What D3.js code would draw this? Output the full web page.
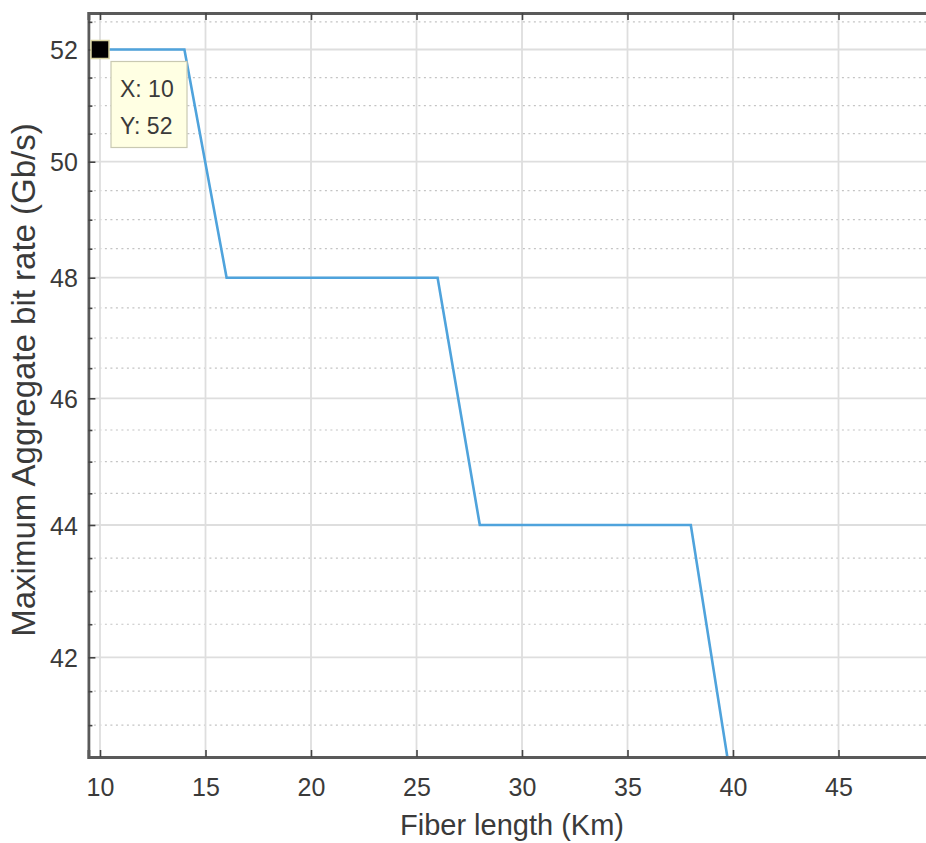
<!DOCTYPE html>
<html>
<head>
<meta charset="utf-8">
<script src="https://cdn.jsdelivr.net/npm/d3@7"></script>
<style>
  html, body { margin: 0; padding: 0; background: #fff; overflow: hidden; }
  svg { display: block; font-family: "Liberation Sans", Arial, Helvetica, sans-serif; }
</style>
</head>
<body>
<svg id="chart" width="926" height="843"></svg>
<script>
// ---- data ----
const fiberLength = [10, 14, 16, 26, 28, 38, 40];      // Km
const bitRate     = [52, 52, 48, 48, 44, 44, 40];      // Gb/s
const xTicks      = [10, 15, 20, 25, 30, 35, 40, 45, 50];
const yTicks      = [42, 44, 46, 48, 50, 52];
const yMinorTicks = [41, 41.5, 42.5, 43, 43.5, 44.5, 45, 45.5, 46.5, 47, 47.5, 48.5, 49, 49.5, 50.5, 51, 51.5, 52.5];
const tipPoint    = { x: 10, y: 52 };
const xLabel = "Fiber length (Km)";
const yLabel = "Maximum Aggregate bit rate (Gb/s)";

(function () {
// ---- layout ----
const svg = d3.select("#chart");
const pLeft = 88.4, pTop = 13, pBottom = 757, pRight = 944;

const x = d3.scaleLinear().domain([9.45, 50]).range([pLeft, pRight]);
// the photographed axis is slightly non-uniform vertically; piecewise linear scale
const y = d3.scaleLinear()
  .domain([40.53, 42, 44, 46, 48, 50, 52, 52.66])
  .range([pBottom, 657.3, 525, 398.3, 277.7, 161.7, 49.5, pTop]);

svg.append("defs").append("clipPath").attr("id", "plotclip")
  .append("rect").attr("x", pLeft).attr("y", pTop)
  .attr("width", pRight - pLeft).attr("height", pBottom - pTop);

// ---- grid ----
const grid = svg.append("g");
grid.selectAll(".ymin").data(yMinorTicks).join("line")
  .attr("x1", pLeft).attr("x2", pRight)
  .attr("y1", d => y(d)).attr("y2", d => y(d))
  .attr("stroke", "#c4c4c4").attr("stroke-width", 1.2)
  .attr("stroke-dasharray", "2,3.5");
grid.selectAll(".xmaj").data(xTicks).join("line")
  .attr("x1", d => x(d)).attr("x2", d => x(d))
  .attr("y1", pTop).attr("y2", pBottom)
  .attr("stroke", "#dedede").attr("stroke-width", 1.8);
grid.selectAll(".ymaj").data(yTicks).join("line")
  .attr("x1", pLeft).attr("x2", pRight)
  .attr("y1", d => y(d)).attr("y2", d => y(d))
  .attr("stroke", "#dedede").attr("stroke-width", 1.8);

// ---- data line ----
const line = d3.line().x(d => x(d[0])).y(d => y(d[1]));
svg.append("path")
  .datum(fiberLength.map((v, i) => [v, bitRate[i]]))
  .attr("clip-path", "url(#plotclip)")
  .attr("d", line)
  .attr("fill", "none")
  .attr("stroke", "#4fa3dc")
  .attr("stroke-width", 2.6)
  .attr("stroke-linejoin", "miter");

// ---- axes ----
const axisColor = "#5a5a5a";
const tickFont = "25px";

const xAxisB = svg.append("g").attr("transform", `translate(0,${pBottom})`)
  .call(d3.axisBottom(x).tickValues(xTicks.filter(d => d < 50)).tickSize(-7).tickPadding(21).tickFormat(d3.format("d")));
const xAxisT = svg.append("g").attr("transform", `translate(0,${pTop})`)
  .call(d3.axisTop(x).tickValues(xTicks).tickSize(-7).tickFormat(""));
const yAxisL = svg.append("g").attr("transform", `translate(${pLeft},0)`)
  .call(d3.axisLeft(y).tickValues(yTicks).tickSize(-7).tickPadding(10.5).tickFormat(d3.format("d")));
const yMinorL = svg.append("g").attr("transform", `translate(${pLeft},0)`)
  .call(d3.axisLeft(y).tickValues(yMinorTicks).tickSize(-4).tickFormat(""));

[xAxisB, xAxisT, yAxisL, yMinorL].forEach(g => {
  g.select(".domain").attr("stroke", axisColor).attr("stroke-width", 2.8);
  g.selectAll(".tick line").attr("stroke", "#444").attr("stroke-width", 1.6);
  g.selectAll(".tick text").attr("fill", "#3a3a3a").style("font-size", tickFont)
    .style("font-family", '"Liberation Sans", Arial, sans-serif');
});
yMinorL.select(".domain").remove();
yAxisL.selectAll(".tick text").attr("dy", "0.36em");

// ---- labels ----
svg.append("text")
  .attr("x", 512).attr("y", 835)
  .attr("text-anchor", "middle")
  .attr("fill", "#3a3a3a").style("font-size", "29px")
  .text(xLabel);

svg.append("text")
  .attr("transform", `translate(35,380) rotate(-90)`)
  .attr("text-anchor", "middle")
  .attr("fill", "#3a3a3a").style("font-size", "33px")
  .text(yLabel);

// ---- data tip ----
const px = x(tipPoint.x), py = y(tipPoint.y);
const tip = svg.append("g");
tip.append("rect")
  .attr("x", px + 11).attr("y", py + 12)
  .attr("width", 76).attr("height", 86)
  .attr("fill", "#ffffe3").attr("stroke", "#c9c9b2").attr("stroke-width", 1.2);
tip.append("text")
  .attr("x", px + 20).attr("y", py + 47)
  .attr("fill", "#3a3a3a").style("font-size", "23px")
  .text(`X: ${tipPoint.x}`);
tip.append("text")
  .attr("x", px + 20).attr("y", py + 84)
  .attr("fill", "#3a3a3a").style("font-size", "23px")
  .text(`Y: ${tipPoint.y}`);
tip.append("rect")
  .attr("x", px - 9).attr("y", py - 9)
  .attr("width", 18).attr("height", 18)
  .attr("fill", "#000").attr("stroke", "#d8d4a0").attr("stroke-width", 1.5);
})();
</script>
</body>
</html>
